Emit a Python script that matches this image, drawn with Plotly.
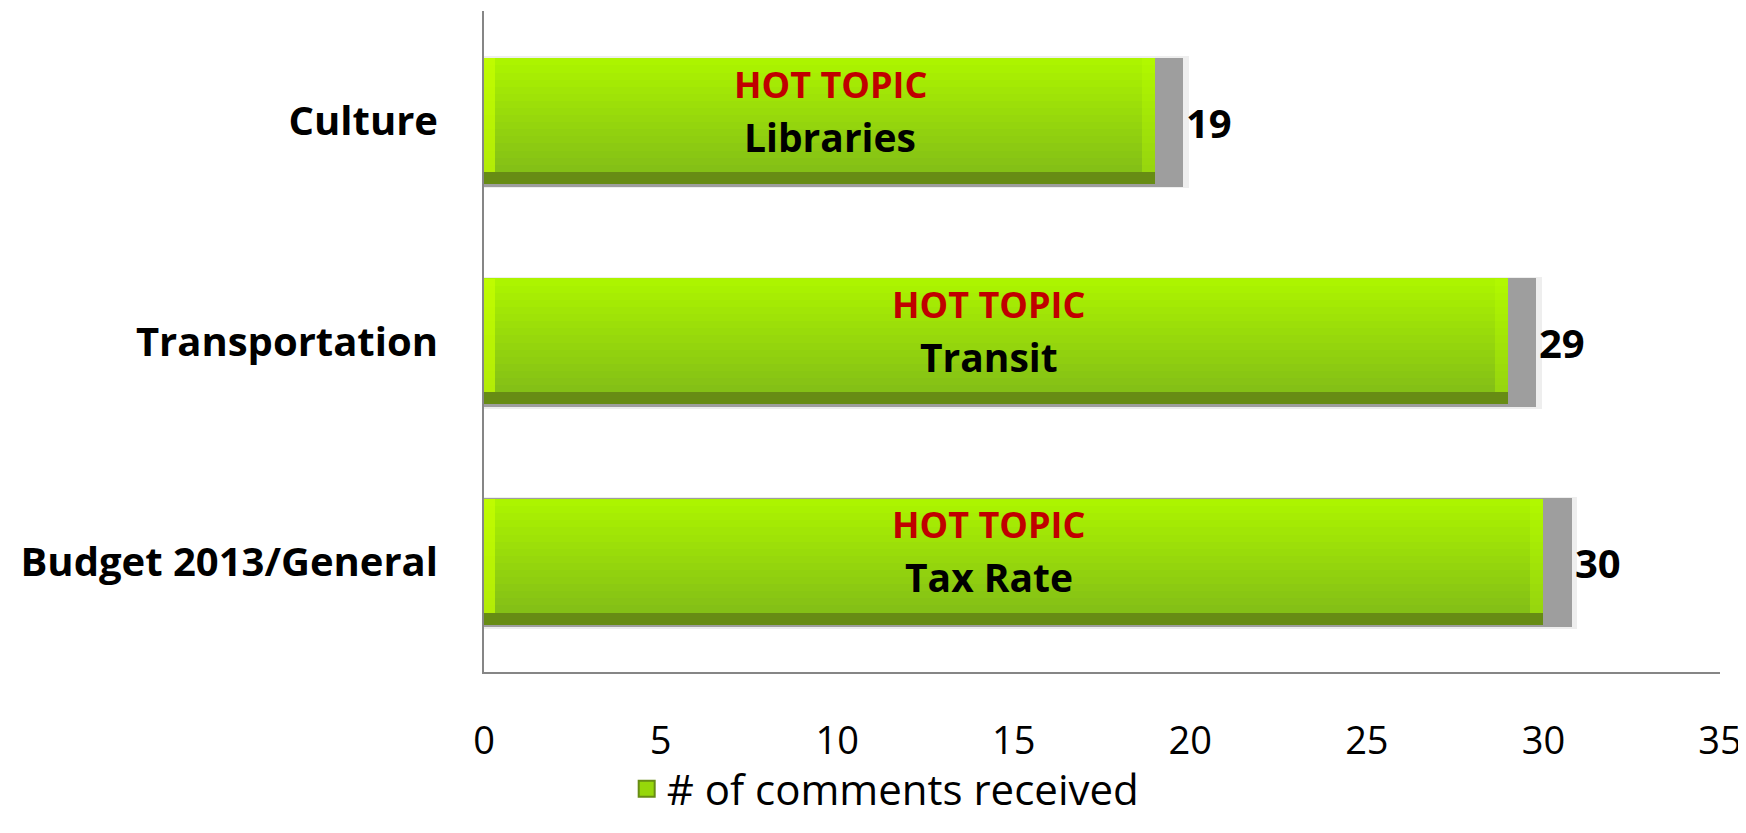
import plotly.graph_objects as go

# ---- data ----
categories = ["Budget 2013/General", "Transportation", "Culture"]
comments = [30, 29, 19]
hot_topics = ["Tax Rate", "Transit", "Libraries"]
label_x = [14.3, 14.3, 9.8]  # centre of the in-bar labels (in axis units, as read)
series_name = "# of comments received"
x_ticks = [0, 5, 10, 15, 20, 25, 30, 35]

FONT = "Open Sans"
W = 0.57        # bar thickness (category units)
BEVEL_B = 0.055 # bottom bevel strip
SIDE_L = 0.3
SIDE_R = 0.37
SHADOW = 0.8

def lerp(c1, c2, t):
    return "rgb(%d,%d,%d)" % tuple(round(a + (b - a) * t) for a, b in zip(c1, c2))

top_c = (172, 244, 0)
bot_c = (132, 192, 22)

fig = go.Figure()

# soft shadow halo
fig.add_trace(go.Bar(
    y=categories, x=[v + SHADOW + 0.15 for v in comments], orientation="h",
    width=W + 0.03, offset=-(W + 0.03) / 2 - 0.005,
    marker=dict(color="rgb(238,238,238)", line_width=0),
    showlegend=False, hoverinfo="skip"))
# shadow + value labels
fig.add_trace(go.Bar(
    y=categories, x=[v + SHADOW for v in comments], orientation="h",
    width=W + 0.015, offset=-(W + 0.015) / 2 - 0.004,
    marker=dict(color="rgb(158,158,158)", line_width=0),
    text=[str(v) for v in comments], textposition="outside",
    textfont=dict(family=FONT, size=40, color="black", weight="bold"),
    cliponaxis=False, showlegend=False, hoverinfo="skip"))

# bottom bevel strip
fig.add_trace(go.Bar(
    y=categories, x=comments, orientation="h",
    width=BEVEL_B, offset=-W / 2,
    marker=dict(color="rgb(103,140,20)", line_width=0),
    showlegend=False, hoverinfo="skip"))

# gradient bands
N = 16
band_h = (W - BEVEL_B) / N
for i in range(N):
    t = i / (N - 1)
    fig.add_trace(go.Bar(
        y=categories, x=comments, orientation="h",
        width=band_h + 0.002, offset=-W / 2 + BEVEL_B + i * band_h,
        marker=dict(color=lerp(bot_c, top_c, t), line_width=0),
        showlegend=False, hoverinfo="skip"))

# left & right bevel highlights
fig.add_trace(go.Bar(
    y=categories, x=[SIDE_L] * len(categories), base=[0] * len(categories),
    orientation="h", width=W - BEVEL_B, offset=-W / 2 + BEVEL_B,
    marker=dict(color="rgba(200,255,0,0.7)", line_width=0),
    showlegend=False, hoverinfo="skip"))
fig.add_trace(go.Bar(
    y=categories, x=[SIDE_R] * len(categories), base=[v - SIDE_R for v in comments],
    orientation="h", width=W - BEVEL_B, offset=-W / 2 + BEVEL_B,
    marker=dict(color="rgba(185,255,0,0.35)", line_width=0),
    showlegend=False, hoverinfo="skip"))

# legend entry
fig.add_trace(go.Scatter(
    x=[None], y=[None], mode="markers", name=series_name,
    marker=dict(symbol="square", size=16, color="rgb(150,215,10)",
                line=dict(color="rgb(103,140,20)", width=2))))

# in-bar labels
for cat, lx, topic in zip(categories, label_x, hot_topics):
    fig.add_annotation(x=lx, y=cat, text="HOT TOPIC", showarrow=False,
                       yshift=37, font=dict(family=FONT, size=36, color="#C00000", weight="bold"))
    fig.add_annotation(x=lx, y=cat, text=topic, showarrow=False,
                       yshift=-15, font=dict(family=FONT, size=39, color="black", weight="bold"))

fig.update_layout(
    width=1738, height=817,
    margin=dict(l=476, r=26, t=3, b=153, autoexpand=False),
    paper_bgcolor="white", plot_bgcolor="white",
    barmode="overlay", bargap=0,
    font=dict(family=FONT, color="black"),
    showlegend=True,
    legend=dict(orientation="h", xref="container", yref="container",
                x=0.505, xanchor="center", y=0.044, yanchor="middle",
                font=dict(family=FONT, size=42, color="black"),
                bgcolor="rgba(0,0,0,0)"),
    xaxis=dict(range=[0, 35], tickvals=x_ticks, showgrid=False, zeroline=False,
               showline=True, linecolor="#868686", linewidth=2, ticks="",
               automargin=False, ticklabelstandoff=34,
               tickfont=dict(family=FONT, size=38, color="black")),
    yaxis=dict(type="category", categoryorder="array", categoryarray=categories,
               range=[-0.5, 2.5], showgrid=False, zeroline=False,
               showline=True, linecolor="#868686", linewidth=2, ticks="",
               automargin=False, ticklabelstandoff=36,
               tickfont=dict(family=FONT, size=40, color="black", weight="bold")),
)

fig.write_html("out.html")
